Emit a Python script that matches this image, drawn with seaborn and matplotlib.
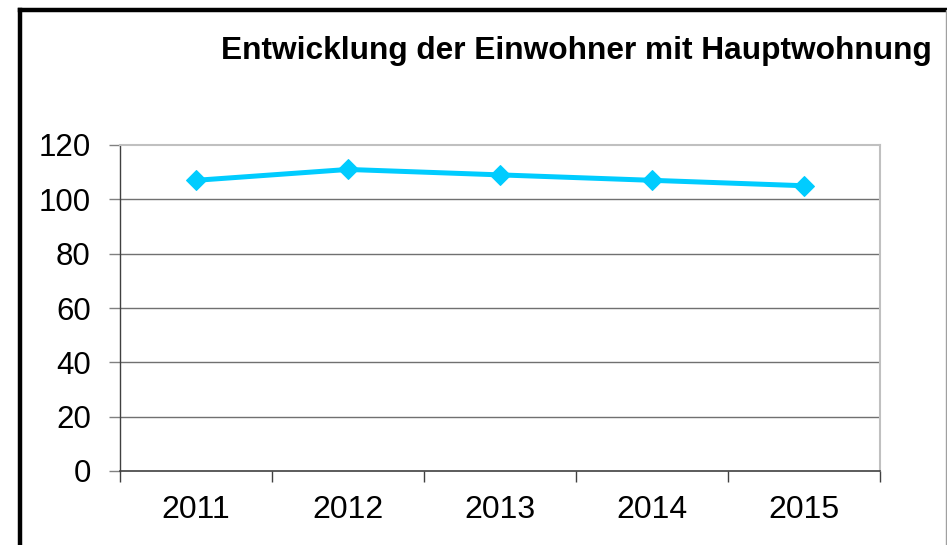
import matplotlib
matplotlib.use("Agg")
import matplotlib.pyplot as plt
import seaborn as sns
import pandas as pd
from matplotlib.lines import Line2D

years = ["2011", "2012", "2013", "2014", "2015"]
values = [107, 111, 109, 107, 105]
y_ticks = [0, 20, 40, 60, 80, 100, 120]
title = "Entwicklung der Einwohner mit Hauptwohnung"

sns.set_theme(style="white")
plt.rcParams['font.family'] = ['Liberation Sans', 'DejaVu Sans']

W, H = 947, 545
fig = plt.figure(figsize=(W / 100, H / 100), dpi=100)
fig.patch.set_facecolor("white")

ax = fig.add_axes([120 / W, 74 / H, 760 / W, 326 / H])
df = pd.DataFrame({"idx": range(len(years)), "value": values})
sns.lineplot(data=df, x="idx", y="value", ax=ax, color="#00CCFF", linewidth=3.6,
             marker="D", markersize=10, markeredgecolor="#00CCFF")

ax.set_xlim(-0.5, len(years) - 0.5)
ax.set_ylim(0, 120)
ax.set_yticks(y_ticks)
ax.set_yticklabels([str(t) for t in y_ticks], fontsize=22.5, color="black")
ax.set_xticks([i - 0.5 for i in range(len(years) + 1)])
ax.set_xticklabels([""] * (len(years) + 1))
ax.set_xticks(range(len(years)), minor=True)
ax.set_xticklabels(years, minor=True, fontsize=23, color="black")
ax.tick_params(axis="x", which="major", direction="out", length=8, width=1, color="#404040", bottom=True)
ax.tick_params(axis="x", which="minor", length=0, pad=17, bottom=True)
ax.tick_params(axis="y", direction="out", length=8, width=1, color="#808080", left=True, pad=13)
ax.set_xlabel("")
ax.set_ylabel("")

for t in y_ticks[1:-1]:
    ax.axhline(t, color="#707070", linewidth=1, zorder=0)
ax.spines["top"].set_color("#C0C0C0")
ax.spines["top"].set_linewidth(1.5)
ax.spines["right"].set_color("#C0C0C0")
ax.spines["right"].set_linewidth(1.5)
ax.spines["left"].set_color("#404040")
ax.spines["left"].set_linewidth(1)
ax.spines["bottom"].set_color("#404040")
ax.spines["bottom"].set_linewidth(1.2)

fig.text(576 / W, 1 - 51 / H, title, ha="center", va="center",
         fontsize=22.8, fontweight="bold", color="black")

# outer frame
fig.add_artist(Line2D([20 / W, 20 / W], [0, 1 - 10 / H], transform=fig.transFigure,
                      color="black", linewidth=3.2, solid_capstyle="projecting"))
fig.add_artist(Line2D([20 / W, 946 / W], [1 - 10 / H, 1 - 10 / H], transform=fig.transFigure,
                      color="black", linewidth=3.2, solid_capstyle="projecting"))
fig.add_artist(Line2D([946 / W, 946 / W], [0, 1 - 10 / H], transform=fig.transFigure,
                      color="#A0A0A0", linewidth=1))

fig.savefig("out.png", dpi=100, facecolor="white")
